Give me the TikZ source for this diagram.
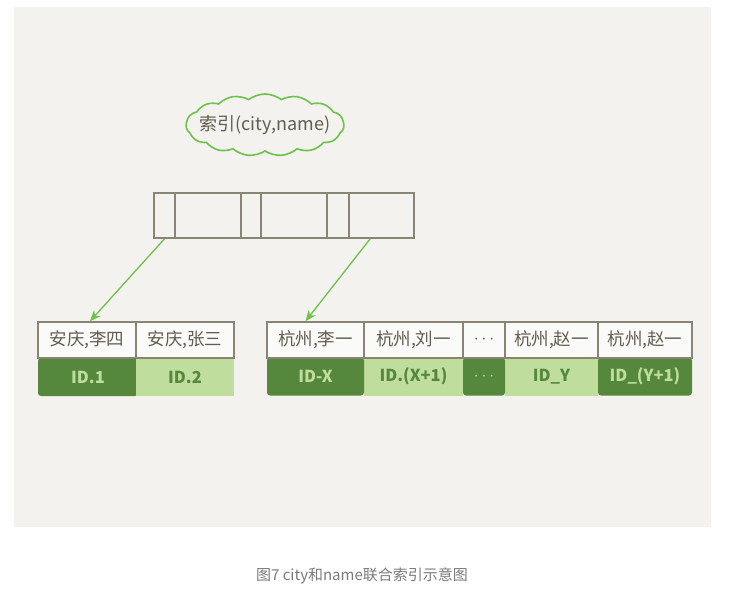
\documentclass[tikz,border=0pt]{standalone}
\usepackage{fontspec}
\setmainfont{Noto Sans CJK SC}
\usetikzlibrary{shapes.symbols,arrows.meta,calc}
\definecolor{panel}{HTML}{F3F2EE}
\definecolor{edge}{HTML}{8A8475}
\definecolor{ink}{HTML}{625D51}
\definecolor{dkg}{HTML}{55873C}
\definecolor{ltg}{HTML}{BFDE9E}
\definecolor{arr}{HTML}{6CC24A}
\definecolor{cap}{HTML}{7A7A7A}
\tikzset{
  rootcell/.style={draw=edge, line width=1.6pt, minimum height=45pt, inner sep=0pt},
  keycell/.style={draw=edge, line width=1.6pt, fill=white!60!panel, minimum height=36pt, inner sep=0pt, text=ink, font=\fontsize{17.5}{17.5}\selectfont},
  darkid/.style={fill=dkg, rounded corners=3pt, minimum height=38pt, inner sep=0pt, text=ltg, font=\bfseries\fontsize{16.5}{16.5}\selectfont},
  lightid/.style={fill=ltg, minimum height=38pt, inner sep=0pt, text=dkg, font=\bfseries\fontsize{16.5}{16.5}\selectfont},
  ptr/.style={draw=arr, line width=1.3pt, -{Stealth[length=11pt,width=9pt]}},
}
\begin{document}
\begin{tikzpicture}[x=1pt,y=-1pt]
\useasboundingbox (0,0) rectangle (749,591);
\fill[panel] (14,7) rectangle (711,527);
% index cloud
\node[cloud, cloud puffs=15, cloud puff arc=75, aspect=2.2, draw=arr, line width=1.6pt,
      minimum width=158pt, minimum height=62pt, inner sep=0pt] (idx) at (265,125) {};
\node[text=ink, font=\fontsize{18}{18}\selectfont, inner sep=0pt] (idxlabel) at (idx.center) {索引(city,name)};
% root node
\node[rootcell, minimum width=21pt]  (r1) at (164.5,215.5) {};
\node[rootcell, minimum width=66pt]  (r2) at (208,215.5) {};
\node[rootcell, minimum width=20pt]  (r3) at (251,215.5) {};
\node[rootcell, minimum width=66pt]  (r4) at (294,215.5) {};
\node[rootcell, minimum width=22pt]  (r5) at (338,215.5) {};
\node[rootcell, minimum width=65pt]  (r6) at (381.5,215.5) {};
% left leaf
\node[darkid, minimum width=100pt]  (i1) at (88,377) {ID.1};
\node[lightid, minimum width=98pt]  (i2) at (185,377) {ID.2};
\node[keycell, minimum width=98pt]  (k1) at (87,340) {安庆,李四};
\node[keycell, minimum width=98pt]  (k2) at (185,340) {安庆,张三};
% right leaf
\node[lightid, minimum width=99pt] (j2) at (413.5,376.5) {ID.(X+1)};
\node[lightid, minimum width=93pt] (j4) at (551.5,376.5) {ID\_Y};
\node[darkid, minimum width=97pt]  (j1) at (315.5,376.5) {ID-X};
\node[darkid, minimum width=42pt]  (j3) at (484,376.5) {$\cdots$};
\node[darkid, minimum width=94pt]  (j5) at (645,376.5) {ID\_(Y+1)};
\node[keycell, minimum width=97pt] (h1) at (315.5,340) {杭州,李一};
\node[keycell, minimum width=99pt] (h2) at (413.5,340) {杭州,刘一};
\node[keycell, minimum width=42pt] (h3) at (484,340) {$\cdots$};
\node[keycell, minimum width=93pt] (h4) at (551.5,340) {杭州,赵一};
\node[keycell, minimum width=94pt] (h5) at (645,340) {杭州,赵一};
% pointers
\coordinate (s2) at ($(r6.south west)+(22,0)$);
\draw[ptr] (r1.south) -- ($(k1.north)+(3,0)$);
\draw[ptr] (s2) -- ($(h1.north)+(-10,0)$);
% caption
\node[text=cap, font=\fontsize{15}{15}\selectfont] (caption) at (362,576) {图7 city和name联合索引示意图};
\end{tikzpicture}
\end{document}
